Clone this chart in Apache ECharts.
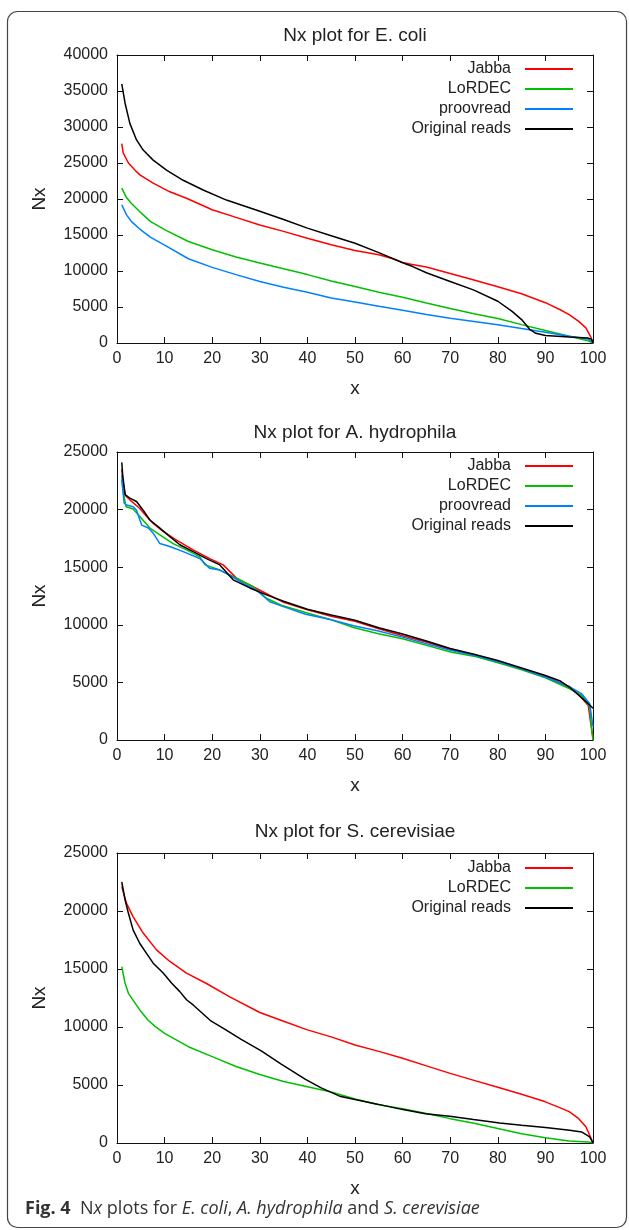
<!DOCTYPE html>
<html><head><meta charset="utf-8">
<script src="https://cdn.jsdelivr.net/npm/echarts@6/dist/echarts.min.js"></script>
<style>html,body{margin:0;padding:0;background:#fff}#c{width:629px;height:1230px}</style>
</head><body><div id="c"></div>
<script>
// ---------- titles / labels ----------
const plotTitles = ['Nx plot for E. coli', 'Nx plot for A. hydrophila', 'Nx plot for S. cerevisiae'];
const yMaxes = [40000, 25000, 25000];
const legend1 = ['Jabba', 'LoRDEC', 'proovread', 'Original reads'];
const legend2 = ['Jabba', 'LoRDEC', 'proovread', 'Original reads'];
const legend3 = ['Jabba', 'LoRDEC', 'Original reads'];

// ---------- E. coli ----------
const ecX_jabba = [1, 1.3, 2.4, 3.8, 4.8, 7.6, 11.1, 14.6, 20, 25, 30, 35, 40, 45, 50, 55, 58, 60, 62, 65, 70, 75, 80, 85, 90, 93, 95, 97, 98.5, 99.5, 100];
const ecY_jabba = [27700, 26400, 25000, 24000, 23350, 22200, 21000, 20100, 18500, 17450, 16400, 15500, 14550, 13650, 12850, 12250, 11700, 11200, 10900, 10550, 9650, 8750, 7800, 6850, 5600, 4650, 3950, 3000, 2100, 900, 0];
const ecX_lordec = [1, 2, 3, 5, 7, 10, 15, 20, 25, 30, 35, 40, 45, 50, 55, 60, 65, 70, 75, 80, 85, 90, 95, 99, 100];
const ecY_lordec = [21500, 20200, 19400, 18100, 16900, 15750, 14100, 12950, 11950, 11100, 10300, 9500, 8600, 7850, 7050, 6350, 5550, 4800, 4050, 3400, 2550, 1750, 950, 300, 0];
const ecX_proov = [1, 2, 3, 5, 7, 10, 15, 20, 25, 30, 35, 40, 45, 50, 55, 60, 65, 70, 75, 80, 85, 90, 95, 99, 100];
const ecY_proov = [19200, 17800, 16900, 15700, 14700, 13600, 11700, 10500, 9500, 8550, 7750, 7050, 6250, 5700, 5100, 4550, 3950, 3450, 3000, 2550, 2000, 1500, 950, 550, 0];
const ecX_orig = [1, 1.7, 2.7, 4.1, 5.5, 7.6, 10.4, 13.9, 18.1, 23, 30, 35, 40, 45, 50, 55, 60, 62, 65, 70, 75, 80, 83, 85, 86.7, 88, 90, 95, 99, 99.7, 100];
const ecY_orig = [36000, 33300, 30500, 28200, 26800, 25400, 24000, 22600, 21250, 19850, 18300, 17150, 15950, 14900, 13850, 12550, 11150, 10650, 9750, 8550, 7350, 5800, 4400, 3250, 1900, 1350, 1050, 820, 680, 500, 0];

// ---------- A. hydrophila ----------
const ahX_jabba = [1, 1.3, 1.8, 2.7, 4.8, 5.9, 7.6, 9.7, 12.5, 16, 19.5, 22.3, 25.1, 29.3, 35, 40, 45, 50, 55, 60, 65, 70, 75, 80, 85, 90, 95, 97, 99, 99.5, 100];
const ahY_jabba = [23500, 22300, 21200, 20850, 20100, 19550, 18800, 18100, 17350, 16500, 15750, 15200, 14050, 13150, 11950, 11300, 10750, 10300, 9650, 9050, 8500, 7850, 7350, 6800, 6150, 5500, 4650, 3950, 3000, 1500, 200];
const ahX_lordec = [1, 1.3, 1.9, 3.4, 4.8, 6.9, 9, 11.8, 14.6, 17.4, 18.5, 21.6, 25.1, 28.6, 31.4, 34.5, 39.6, 44.6, 49.7, 54.7, 60.2, 65.2, 70.3, 75.3, 80.4, 85, 90, 95.1, 97.6, 99.3, 99.8, 100];
const ahY_lordec = [22600, 21500, 20250, 20050, 19400, 18400, 17800, 17050, 16500, 15900, 15200, 14750, 14050, 13300, 12300, 11700, 11060, 10490, 9770, 9250, 8760, 8190, 7610, 7240, 6670, 6090, 5400, 4450, 3880, 2870, 570, 0];
const ahX_proov = [1, 1.2, 1.5, 2, 3.4, 4.1, 5.2, 6.6, 7.6, 9, 11.1, 13.9, 17.4, 19.5, 21.6, 23.7, 26.5, 29.3, 32.1, 34.5, 39.6, 44.6, 49.7, 54.7, 60.2, 65.2, 70.3, 75.3, 80.4, 85, 90, 95.1, 97.6, 99.3, 100];
const ahY_proov = [23000, 21850, 20550, 20400, 20250, 19950, 18650, 18400, 17950, 17050, 16800, 16350, 15750, 14900, 14750, 14300, 13600, 13000, 12000, 11640, 10920, 10490, 9910, 9480, 8910, 8330, 7760, 7330, 6750, 6180, 5460, 4600, 4020, 3160, 1150];
const ahX_orig = [1, 1.2, 1.7, 2.7, 4.1, 5.5, 6.9, 8.7, 11.1, 13.2, 16, 18.8, 21.6, 24.4, 27.9, 31.4, 35, 40, 45, 50, 55, 60, 65, 70, 75, 80, 85, 90, 93, 95, 97, 99, 100];
const ahY_orig = [24100, 23000, 21300, 21000, 20700, 19950, 19100, 18500, 17650, 16950, 16350, 15750, 15200, 13900, 13200, 12600, 12050, 11350, 10850, 10400, 9750, 9200, 8600, 7950, 7450, 6900, 6250, 5600, 5150, 4600, 3900, 3150, 2750];

// ---------- S. cerevisiae ----------
const scX_jabba = [1, 2, 3.4, 5.5, 8.3, 11.1, 14.6, 18.8, 23.7, 30, 35, 40, 45, 50, 55, 60, 65, 70, 75, 80, 85, 90, 93, 95, 97, 98.5, 99.5, 100];
const scY_jabba = [22100, 20650, 19500, 18100, 16650, 15650, 14650, 13750, 12600, 11250, 10500, 9750, 9150, 8450, 7900, 7300, 6650, 6000, 5400, 4800, 4200, 3550, 3050, 2700, 2100, 1400, 500, 0];
const scX_lordec = [1, 1.7, 2.4, 3.4, 5, 6.5, 8, 10, 15, 20, 25, 30, 35, 40, 45, 50, 55, 60, 65, 70, 75, 80, 85, 90, 95, 99, 100];
const scY_lordec = [15200, 13770, 12900, 12300, 11350, 10600, 10050, 9450, 8300, 7450, 6600, 5900, 5300, 4850, 4400, 3800, 3300, 2950, 2550, 2100, 1700, 1250, 800, 450, 170, 90, 0];
const scX_orig = [1, 1.7, 2.4, 3.4, 4.8, 6.2, 7.6, 9.7, 11.5, 13.2, 14.6, 16, 19.8, 22.7, 26, 30.3, 34.5, 39.6, 42.9, 47, 50.5, 54.7, 59.8, 64.8, 69.9, 74.9, 80.4, 85, 90, 95.1, 97.6, 99.3, 100];
const scY_orig = [22500, 20950, 19800, 18350, 17200, 16350, 15500, 14650, 13770, 13050, 12350, 11900, 10500, 9800, 8950, 7950, 6800, 5480, 4750, 4000, 3700, 3350, 2900, 2520, 2310, 2020, 1730, 1530, 1330, 1100, 950, 520, 0];

// ---------- build ----------
const FONT = 'Liberation Sans';
const COLORS = { 'Jabba': '#ff0000', 'LoRDEC': '#00c000', 'proovread': '#0080ff', 'Original reads': '#000000' };
const gridTops = [55, 452, 853];
const gridHeights = [288, 288, 290];
const titleTops = [26, 423, 822];
const legendTops = [56, 453, 855];

function pairs(xs, ys) { return xs.map((x, i) => [x, ys[i]]); }
function line(name, xs, ys, g) {
  return { type: 'line', name, xAxisIndex: g * 2, yAxisIndex: g * 2, data: pairs(xs, ys),
    showSymbol: false, symbol: 'none', animation: false,
    lineStyle: { width: 1.5, color: COLORS[name] }, itemStyle: { color: COLORS[name] } };
}

const grids = [], xAxes = [], yAxes = [], titles = [], legends = [];
for (let g = 0; g < 3; g++) {
  grids.push({ left: 117, right: 36, top: gridTops[g], height: gridHeights[g], containLabel: false });
  const axLine = { onZero: false, lineStyle: { color: '#111', width: 1 } };
  const tick = { inside: true, length: 6, lineStyle: { color: '#111', width: 1 } };
  xAxes.push({ gridIndex: g, type: 'value', min: 0, max: 100, interval: 10, position: 'bottom',
    axisLine: axLine, axisTick: tick, splitLine: { show: false },
    axisLabel: { margin: 8, fontSize: 16, color: '#222', fontFamily: FONT, formatter: v => String(v) },
    name: 'x', nameLocation: 'middle', nameGap: 36,
    nameTextStyle: { fontSize: 19, color: '#222', fontFamily: FONT } });
  xAxes.push({ gridIndex: g, type: 'value', min: 0, max: 100, interval: 10, position: 'top',
    axisLine: axLine, axisTick: tick, splitLine: { show: false }, axisLabel: { show: false } });
  yAxes.push({ gridIndex: g, type: 'value', min: 0, max: yMaxes[g], interval: 5000, position: 'left',
    axisLine: axLine, axisTick: tick, splitLine: { show: false },
    axisLabel: { margin: 9, fontSize: 16, color: '#222', fontFamily: FONT, formatter: v => String(v) },
    name: 'Nx', nameLocation: 'middle', nameGap: 68,
    nameTextStyle: { fontSize: 19, color: '#222', fontFamily: FONT } });
  yAxes.push({ gridIndex: g, type: 'value', min: 0, max: yMaxes[g], interval: 5000, position: 'right',
    axisLine: axLine, axisTick: tick, splitLine: { show: false }, axisLabel: { show: false } });
  titles.push({ text: plotTitles[g], left: 355, top: titleTops[g], textAlign: 'center', padding: 0,
    textStyle: { fontSize: 19, fontWeight: 'normal', color: '#222', fontFamily: FONT } });
}
const legendData = [legend1, legend2, legend3];
for (let g = 0; g < 3; g++) {
  legends.push({ data: legendData[g], orient: 'vertical', right: 51, top: legendTops[g], align: 'right',
    icon: 'rect', itemWidth: 48, itemHeight: 2, itemGap: 4, selectedMode: false,
    textStyle: { fontSize: 16, color: '#222', fontFamily: FONT, padding: [0, 9, 0, 0] } });
}
titles.push({ text: '{b|Fig. 4}  N{i|x} plots for {i|E. coli}, {i|A. hydrophila} and {i|S. cerevisiae}',
  left: 25, top: 1200, padding: 0,
  textStyle: { fontSize: 18, fontWeight: 'normal', color: '#333', fontFamily: 'Open Sans',
    rich: { b: { fontWeight: 'bold', fontSize: 18, fontFamily: 'Open Sans', color: '#333' },
            i: { fontStyle: 'italic', fontSize: 18, fontFamily: 'Open Sans', color: '#333' } } } });

const series = [
  line('Jabba', ecX_jabba, ecY_jabba, 0), line('LoRDEC', ecX_lordec, ecY_lordec, 0),
  line('proovread', ecX_proov, ecY_proov, 0), line('Original reads', ecX_orig, ecY_orig, 0),
  line('Jabba', ahX_jabba, ahY_jabba, 1), line('LoRDEC', ahX_lordec, ahY_lordec, 1),
  line('proovread', ahX_proov, ahY_proov, 1), line('Original reads', ahX_orig, ahY_orig, 1),
  line('Jabba', scX_jabba, scY_jabba, 2), line('LoRDEC', scX_lordec, scY_lordec, 2),
  line('Original reads', scX_orig, scY_orig, 2)
];

const chart = echarts.init(document.getElementById('c'), null, { renderer: 'canvas' });
chart.setOption({
  backgroundColor: '#fff', animation: false,
  title: titles, legend: legends, grid: grids, xAxis: xAxes, yAxis: yAxes, series,
  graphic: [{ type: 'rect', silent: true, z: -1,
    shape: { x: 7.5, y: 11.5, width: 619, height: 1216, r: 10 },
    style: { fill: 'none', stroke: '#444', lineWidth: 1.2 } }]
});
</script></body></html>
